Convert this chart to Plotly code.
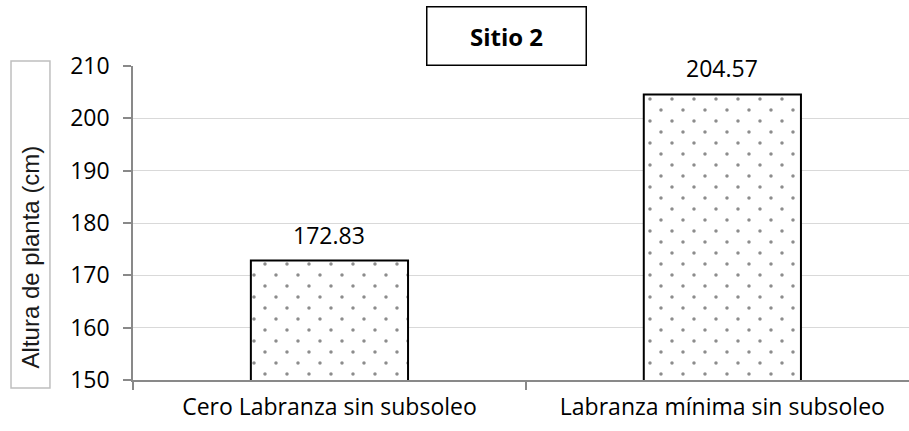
import plotly.graph_objects as go

# Plant height by tillage treatment, site 2
categorias = ["Cero Labranza sin subsoleo", "Labranza mínima sin subsoleo"]
altura_cm = [172.83, 204.57]
ticks_y = [150, 160, 170, 180, 190, 200, 210]

TICK_FONT = dict(family="Open Sans", size=23, color="#000000")

X_RANGE = [-0.5, 1.475]
Y_RANGE = [150, 210]
PLOT_W, PLOT_H = 776, 314
DOT = 22          # dot pattern period (px)
HALF = DOT / 2    # offset for the staggered second layer of dots

fig = go.Figure()

# main bars: white fill, black outline, square grid of dots
fig.add_trace(go.Bar(
    x=categorias, y=altura_cm, width=0.4,
    marker=dict(
        color="#ffffff",
        line=dict(color="#000000", width=2),
        pattern=dict(shape=".", fgcolor="#1a1a1a", bgcolor="#ffffff",
                     size=DOT, solidity=0.02),
    ),
    showlegend=False, hoverinfo="skip",
))

# same bars on a subplot shifted by half a period, so the dot grid is staggered
x2_shift = HALF * (X_RANGE[1] - X_RANGE[0]) / PLOT_W
y2_shift = HALF * (Y_RANGE[1] - Y_RANGE[0]) / PLOT_H
fig.add_trace(go.Bar(
    x=categorias, y=altura_cm, width=0.4,
    xaxis="x2", yaxis="y2",
    marker=dict(
        color="rgba(0,0,0,0)",
        line=dict(color="rgba(0,0,0,0)", width=0),
        pattern=dict(shape=".", fgcolor="#1a1a1a", bgcolor="rgba(0,0,0,0)",
                     size=DOT, solidity=0.02),
    ),
    showlegend=False, hoverinfo="skip",
))

# value labels above each bar
for c, v in zip(categorias, altura_cm):
    fig.add_annotation(x=c, y=v, text=f"{v:.2f}", showarrow=False,
                       yanchor="bottom", yshift=8,
                       font=dict(family="Open Sans", size=23, color="#000000"))

# boxed title
fig.add_annotation(xref="paper", yref="paper", x=0.4807, y=1.0955,
                   text="<b>Sitio 2</b>", showarrow=False,
                   xanchor="center", yanchor="middle",
                   width=156, height=55, borderpad=1,
                   bordercolor="#000000", borderwidth=1.5, bgcolor="#ffffff",
                   font=dict(family="Open Sans", size=24, color="#000000"))

# frame around the vertical axis title
fig.add_shape(type="rect", xref="paper", yref="paper",
              x0=-0.1572, x1=-0.1070, y0=-0.0255, y1=1.0159,
              line=dict(color="#bfbfbf", width=1.5), fillcolor="rgba(0,0,0,0)")

# vertical axis title, sitting low inside its frame
fig.add_annotation(xref="paper", yref="paper", x=-0.1321, y=0.392,
                   text="Altura de planta (cm)", showarrow=False,
                   textangle=-90, xanchor="center", yanchor="middle",
                   font=dict(family="Liberation Sans", size=24, color="#1a1a1a"))

fig.update_layout(
    width=909, height=431,
    margin=dict(l=133, r=0, t=66, b=51),
    paper_bgcolor="#ffffff", plot_bgcolor="rgba(0,0,0,0)",
    barmode="overlay",
    xaxis=dict(
        type="category",
        range=X_RANGE,
        tickson="boundaries",
        ticks="outside", ticklen=8, tickcolor="#898989", tickwidth=1.5,
        showline=True, linecolor="#898989", linewidth=1.5,
        showgrid=False,
        tickfont=TICK_FONT,
        ticklabelstandoff=6,
    ),
    yaxis=dict(
        range=Y_RANGE,
        tickvals=ticks_y,
        ticks="outside", ticklen=8, tickcolor="#898989", tickwidth=1.5,
        showline=True, linecolor="#898989", linewidth=1.5,
        showgrid=True, gridcolor="#d9d9d9", gridwidth=1,
        zeroline=False,
        tickfont=TICK_FONT,
        ticklabelstandoff=9,
    ),
    xaxis2=dict(
        type="category", visible=False,
        domain=[HALF / PLOT_W, 1],
        range=[X_RANGE[0] + x2_shift, X_RANGE[1]],
        categoryarray=categorias, categoryorder="array",
    ),
    yaxis2=dict(
        visible=False, anchor="x2",
        domain=[0, 1 - HALF / PLOT_H],
        range=[Y_RANGE[0], Y_RANGE[1] - y2_shift],
    ),
)

fig.write_html("out.html")
